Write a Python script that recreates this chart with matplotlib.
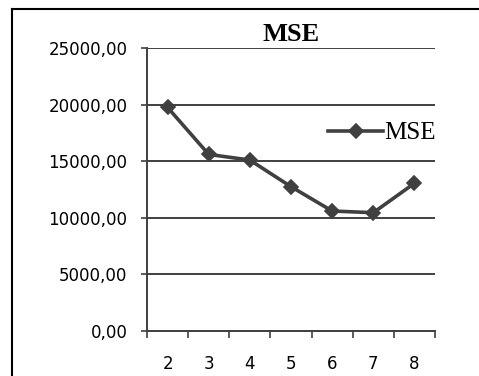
import matplotlib
matplotlib.use('Agg')
import matplotlib.pyplot as plt
from matplotlib.lines import Line2D
from matplotlib.ticker import FuncFormatter

# data
clusters = [2, 3, 4, 5, 6, 7, 8]
mse = [19750, 15600, 15100, 12750, 10600, 10450, 13050]
yticks = [0, 5000, 10000, 15000, 20000, 25000]

dark = '#404040'

fig = plt.figure(figsize=(4.79, 3.76), dpi=100)
ax = fig.add_axes([147 / 479, 1 - 331 / 376, 288 / 479, 283 / 376])

# frame around the chart area (only top and left show in the picture)
fig.add_artist(Line2D([11.5 / 479, 11.5 / 479], [0, 1 - 9 / 376],
                      transform=fig.transFigure, color='black', lw=1.5))
fig.add_artist(Line2D([11.5 / 479, 1], [1 - 9 / 376, 1 - 9 / 376],
                      transform=fig.transFigure, color='black', lw=1.5))

ax.plot(clusters, mse, color=dark, lw=2.6, marker='D', markersize=7,
        markeredgewidth=1.2, markeredgecolor=dark, label='MSE', zorder=3)

ax.set_xlim(1.5, 8.5)
ax.set_ylim(0, 25000)
ax.set_yticks(yticks)
ax.yaxis.set_major_formatter(FuncFormatter(lambda v, p: f'{v:.2f}'.replace('.', ',')))
ax.set_xticks([c + 0.5 for c in [1] + clusters])
ax.set_xticklabels([])
ax.set_xticks(clusters, minor=True)
ax.set_xticklabels([str(c) for c in clusters], minor=True)
ax.tick_params(axis='x', which='minor', length=0, pad=17, labelsize=12)
ax.tick_params(axis='x', which='major', direction='out', length=5, width=1.2, color=dark)
ax.tick_params(axis='y', direction='out', length=4, width=1.2, color=dark, pad=10, labelsize=12)

ax.grid(axis='y', color=dark, lw=1.4)
for s in ['top', 'right']:
    ax.spines[s].set_visible(False)
for s in ['left', 'bottom']:
    ax.spines[s].set_color(dark)
    ax.spines[s].set_linewidth(1.4)

ax.set_title('MSE', fontfamily='Liberation Serif', fontweight='bold', fontsize=19, pad=5)
fig.legend(*ax.get_legend_handles_labels(), loc='center left',
           bbox_to_anchor=(328 / 479, 1 - 133 / 376), frameon=False,
           prop={'family': 'Liberation Serif', 'size': 18},
           handlelength=2.2, handletextpad=0.05, borderpad=0, borderaxespad=0)

fig.savefig('out.png', dpi=100)
